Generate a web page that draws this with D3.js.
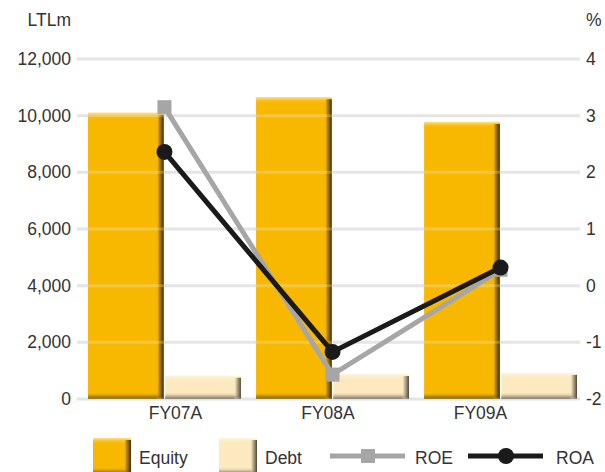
<!DOCTYPE html>
<html><head><meta charset="utf-8">
<script src="https://cdn.jsdelivr.net/npm/d3@7"></script>
<style>
html,body{margin:0;padding:0;background:#fff;}
svg{display:block;font-family:"Liberation Sans",Arial,sans-serif;}
</style></head>
<body><svg id="c" width="605" height="472"></svg>
<script>
const categories = ["FY07A","FY08A","FY09A"];
const equity = [10100, 10650, 9780];
const debt = [820, 880, 920];
const roe = [3.15, -1.57, 0.28];
const roa = [2.36, -1.17, 0.32];
const leftTicks = [0,2000,4000,6000,8000,10000,12000];
const rightTicks = [-2,-1,0,1,2,3,4];
const seriesNames = ["Equity","Debt","ROE","ROA"];

const W=605,H=472;
const svg=d3.select("#c");
const defs=svg.append("defs");
const yL=d3.scaleLinear().domain([0,12000]).range([399,59]);
const yR=d3.scaleLinear().domain([-2,4]).range([399,59]);
const x0=d3.scaleBand().domain(categories).range([88,577]).paddingInner(0.09).paddingOuter(0);
const x1=d3.scaleBand().domain(["Equity","Debt"]).range([0,x0.bandwidth()]).paddingInner(0.02);
const xLab=d3.scalePoint().domain(categories).range([175,480]);

// gradients
function lin(id,x2,y2,stops){
  const g=defs.append("linearGradient").attr("id",id).attr("x1",0).attr("y1",0).attr("x2",x2).attr("y2",y2);
  stops.forEach(s=>g.append("stop").attr("offset",s[0]).attr("stop-color",s[1]).attr("stop-opacity",s[2]));
}
lin("eqR",1,0,[[0,"#f9b800",0],[0.35,"#9a6e00",0.7],[1,"#3a2a00",1]]);
lin("eqB",0,1,[[0,"#f9b800",0],[1,"#4a3600",0.95]]);
lin("eqT",0,1,[[0,"#ffe8a0",0.9],[1,"#f9b800",0]]);
lin("dbR",1,0,[[0,"#fde9c0",0],[0.4,"#a89a80",0.7],[1,"#4a4438",1]]);
lin("dbB",0,1,[[0,"#fde9c0",0],[1,"#4e493e",0.95]]);
lin("dbT",0,1,[[0,"#fff6e0",0.9],[1,"#fde9c0",0]]);
const colors={Equity:"#f9b800",Debt:"#fde9c0"};
const pre={Equity:"eq",Debt:"db"};

function bevelRect(g,x,y,w,h,name){
  g.append("rect").attr("x",x).attr("y",y).attr("width",w).attr("height",h).attr("fill",colors[name]);
  g.append("rect").attr("x",x).attr("y",y).attr("width",w).attr("height",Math.min(6,h)).attr("fill",`url(#${pre[name]}T)`);
  g.append("rect").attr("x",x).attr("y",y+h-Math.min(7,h)).attr("width",w).attr("height",Math.min(7,h)).attr("fill",`url(#${pre[name]}B)`);
  g.append("rect").attr("x",x+w-7).attr("y",y+2).attr("width",7).attr("height",h-2).attr("fill",`url(#${pre[name]}R)`);
}

// gridlines (under)
const grid=svg.append("g");
grid.selectAll("line").data(leftTicks).join("line")
  .attr("x1",77).attr("x2",580).attr("y1",d=>yL(d)).attr("y2",d=>yL(d))
  .attr("stroke","#e6e6e6").attr("stroke-width",3);

// bars
const bars=svg.append("g");
categories.forEach((c,i)=>{
  [["Equity",equity[i]],["Debt",debt[i]]].forEach(([n,v])=>{
    const x=x0(c)+x1(n), w=x1.bandwidth(), y=yL(v), h=yL(0)-yL(v);
    bevelRect(bars,x,y,w,h,n);
  });
});

// gridlines over bars faintly
svg.append("g").selectAll("line").data(leftTicks).join("line")
  .attr("x1",77).attr("x2",580).attr("y1",d=>yL(d)).attr("y2",d=>yL(d))
  .attr("stroke","#e6e6e6").attr("stroke-width",3).attr("stroke-opacity",0.3);

// axes
const tickFont="17.5px";
const axL=svg.append("g").attr("transform","translate(77,0)")
  .call(d3.axisLeft(yL).tickValues(leftTicks).tickFormat(d3.format(",")).tickSize(0).tickPadding(6));
const axR=svg.append("g").attr("transform","translate(580,0)")
  .call(d3.axisRight(yR).tickValues(rightTicks).tickFormat(d3.format("d")).tickSize(0).tickPadding(6));
const axX=svg.append("g").attr("transform","translate(0,404)")
  .call(d3.axisBottom(xLab).tickSize(0).tickPadding(3));
[axL,axR,axX].forEach(a=>{a.select(".domain").remove();a.selectAll("text").attr("font-size",tickFont).attr("fill","#333").attr("font-family","Liberation Sans, Arial, sans-serif");});
axR.selectAll("text").text(d=>d<0?"-"+Math.abs(d):d);

svg.append("text").attr("x",71).attr("y",26).attr("text-anchor","end").attr("font-size",tickFont).attr("fill","#333").text("LTLm");
svg.append("text").attr("x",586).attr("y",26).attr("font-size",tickFont).attr("fill","#333").text("%");

// lines
const cx=c=>x0(c)+x0.bandwidth()/2;
const lineR=d3.line().x((d,i)=>cx(categories[i])).y(d=>yR(d));
svg.append("path").datum(roe).attr("d",lineR).attr("fill","none").attr("stroke","#a6a6a6").attr("stroke-width",5);
svg.append("g").selectAll("rect").data(roe).join("rect")
  .attr("x",(d,i)=>cx(categories[i])-7).attr("y",d=>yR(d)-7).attr("width",14).attr("height",14).attr("fill","#a6a6a6");
svg.append("path").datum(roa).attr("d",lineR).attr("fill","none").attr("stroke","#1a1a1a").attr("stroke-width",5);
svg.append("g").selectAll("circle").data(roa).join("circle")
  .attr("cx",(d,i)=>cx(categories[i])).attr("cy",d=>yR(d)).attr("r",8).attr("fill","#1a1a1a");

// legend
const lg=svg.append("g");
const legY=456;
bevelRect(lg,93,438,38,36,"Equity");
lg.append("text").attr("x",139).attr("y",legY+8).attr("font-size",tickFont).attr("fill","#333").text(seriesNames[0]);
bevelRect(lg,219,438,38,36,"Debt");
lg.append("text").attr("x",265).attr("y",legY+8).attr("font-size",tickFont).attr("fill","#333").text(seriesNames[1]);
lg.append("line").attr("x1",330).attr("x2",405).attr("y1",legY).attr("y2",legY).attr("stroke","#a6a6a6").attr("stroke-width",5);
lg.append("rect").attr("x",361).attr("y",legY-7).attr("width",14).attr("height",14).attr("fill","#a6a6a6");
lg.append("text").attr("x",415).attr("y",legY+8).attr("font-size",tickFont).attr("fill","#333").text(seriesNames[2]);
lg.append("line").attr("x1",468).attr("x2",543).attr("y1",legY).attr("y2",legY).attr("stroke","#1a1a1a").attr("stroke-width",5);
lg.append("circle").attr("cx",506).attr("cy",legY).attr("r",8).attr("fill","#1a1a1a");
lg.append("text").attr("x",556).attr("y",legY+8).attr("font-size",tickFont).attr("fill","#333").text(seriesNames[3]);
</script></body></html>
